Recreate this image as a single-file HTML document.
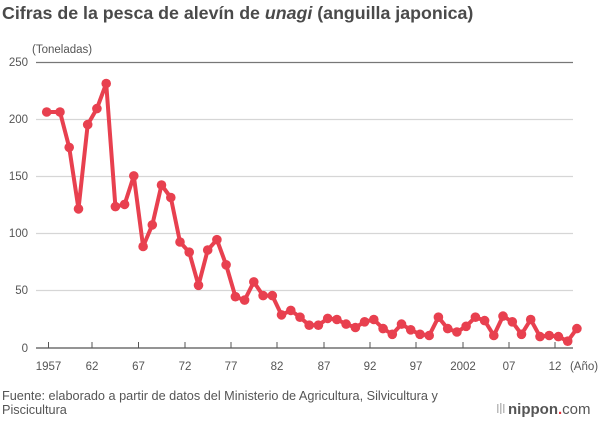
<!DOCTYPE html>
<html><head><meta charset="utf-8"><style>
html,body{margin:0;padding:0;background:#fff;}
body{width:600px;height:420px;overflow:hidden;font-family:"Liberation Sans",sans-serif;}
</style></head><body>
<svg width="600" height="420" xmlns="http://www.w3.org/2000/svg" font-family="Liberation Sans, sans-serif">
<text x="2" y="19" font-size="17.8" font-weight="bold" fill="#4a4a4a">Cifras de la pesca de alevín de <tspan font-style="italic">unagi</tspan> (anguilla japonica)</text>
<text x="32" y="53" font-size="11.5" fill="#555">(Toneladas)</text>
<g stroke="#d6d6d6" stroke-width="1.2">
<line x1="36" y1="119.5" x2="573" y2="119.5"/>
<line x1="36" y1="176.5" x2="573" y2="176.5"/>
<line x1="36" y1="233.5" x2="573" y2="233.5"/>
<line x1="36" y1="290.5" x2="573" y2="290.5"/>
</g>
<line x1="36" y1="62.5" x2="573" y2="62.5" stroke="#777" stroke-width="1.2"/>
<line x1="36" y1="348" x2="573" y2="348" stroke="#555" stroke-width="1.2"/>
<g font-size="11.5" fill="#555" text-anchor="end">
<text x="28" y="66">250</text><text x="28" y="123">200</text><text x="28" y="180">150</text><text x="28" y="237">100</text><text x="28" y="294">50</text><text x="28" y="352">0</text>
</g>
<g id="ticks" stroke="#555" stroke-width="1"></g>
<g font-size="11.5" fill="#555" text-anchor="middle">
<text x="48.5" y="370">1957</text><text x="92" y="370">62</text><text x="138.5" y="370">67</text><text x="185" y="370">72</text><text x="231" y="370">77</text><text x="277" y="370">82</text><text x="324" y="370">87</text><text x="370" y="370">92</text><text x="416" y="370">97</text><text x="463" y="370">2002</text><text x="509" y="370">07</text><text x="555" y="370">12</text>
<text x="584" y="370">(Año)</text>
</g>
<g id="series"></g>
<text x="2" y="400" font-size="12.7" fill="#555">Fuente: elaborado a partir de datos del Ministerio de Agricultura, Silvicultura y</text>
<text x="2" y="414" font-size="12.7" fill="#555">Piscicultura</text>
<g fill="#bbb"><rect x="497" y="404" width="1.5" height="9"/><rect x="500" y="403" width="1.5" height="11"/><rect x="503" y="404" width="1.5" height="9"/></g>
<text x="508" y="414" font-size="15" fill="#555" font-weight="bold">nippon<tspan fill="#e8323c">.</tspan><tspan font-weight="normal">com</tspan></text>
</svg>
<script>
var v=[207,207,176,122,196,210,232,124,126,151,89,108,143,132,93,84,55,86,95,73,45,42,58,46,46,29,33,27,20,20,26,25,21,18,23,25,17,12,21,16,12,11,27,17,14,19,27,24,11,28,23,12,25,10,11,10,6,17];
var ns="http://www.w3.org/2000/svg",g=document.getElementById("series"),pts=[];
for(var i=0;i<v.length;i++){var x=i==0?46.7:60+(i-1)*9.23;var y=348-v[i]*1.14;pts.push(x.toFixed(1)+","+y.toFixed(1));}
var pl=document.createElementNS(ns,"polyline");pl.setAttribute("points",pts.join(" "));pl.setAttribute("fill","none");pl.setAttribute("stroke","#e8404f");pl.setAttribute("stroke-width","4");pl.setAttribute("stroke-linejoin","round");g.appendChild(pl);
pts.forEach(function(p){var a=p.split(",");var c=document.createElementNS(ns,"circle");c.setAttribute("cx",a[0]);c.setAttribute("cy",a[1]);c.setAttribute("r","4.8");c.setAttribute("fill","#e8404f");g.appendChild(c);});
var t=document.getElementById("ticks");[48.5,92,138.5,185,231,277,324,370,416,463,509,555].forEach(function(x){var l=document.createElementNS(ns,"line");l.setAttribute("x1",x);l.setAttribute("x2",x);l.setAttribute("y1",342);l.setAttribute("y2",348);t.appendChild(l);});
</script>
</body></html>
